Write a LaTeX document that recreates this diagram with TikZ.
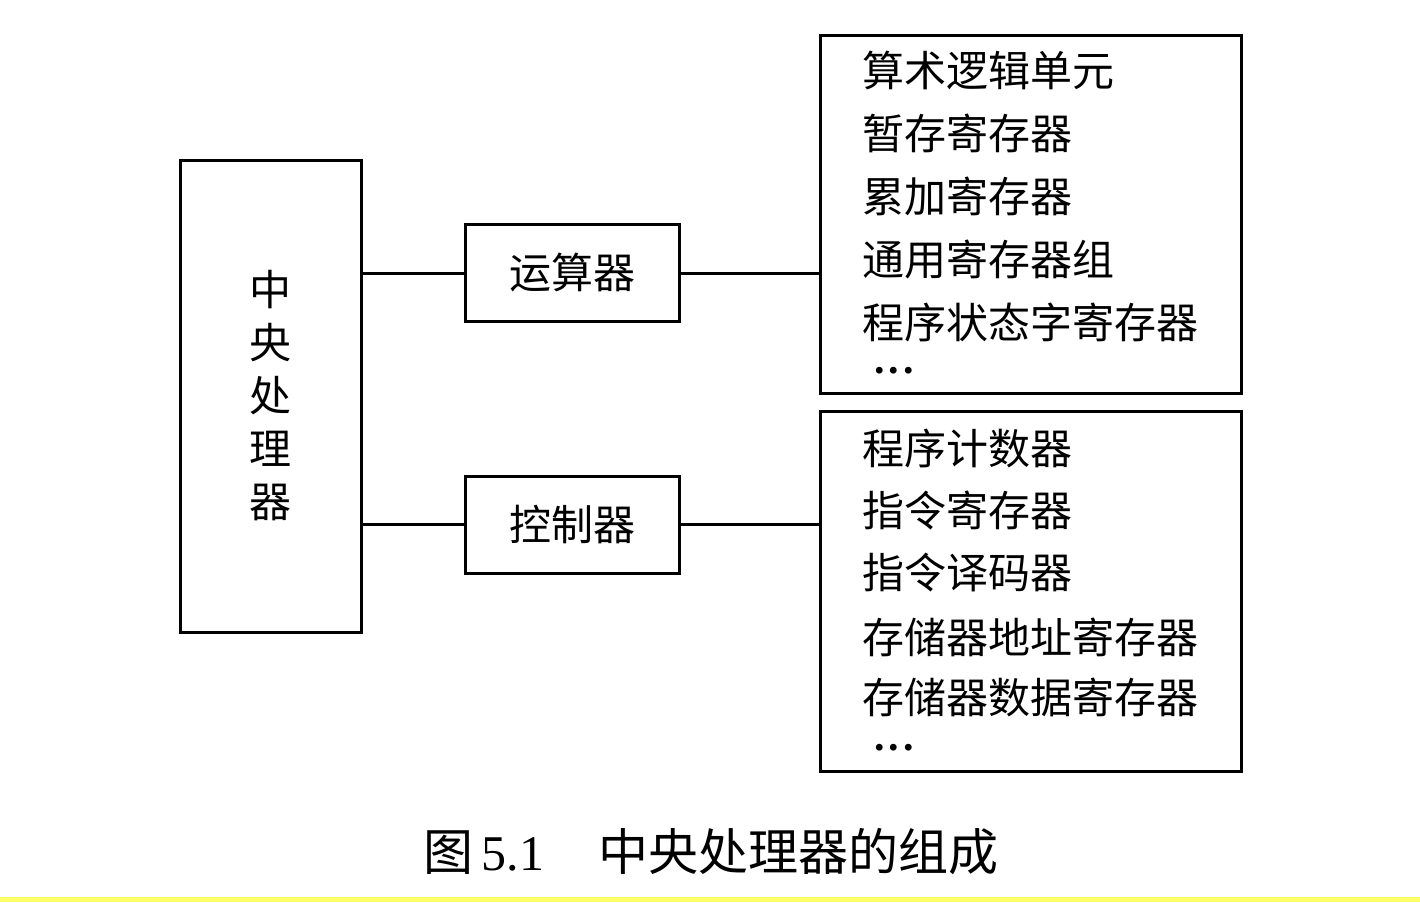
\documentclass[tikz,border=0pt]{standalone}
\usepackage{fontspec}
\setmainfont{Liberation Serif}
\newfontfamily\cjk{Noto Sans CJK SC}
\definecolor{bandyellow}{RGB}{255,255,102}

\begin{document}
\begin{tikzpicture}[x=0.5pt, y=-0.5pt,
    boxframe/.style={draw=black, line width=1.5pt, rectangle, inner sep=0pt},
    listline/.style={anchor=west, inner sep=0pt, font=\cjk\fontsize{21pt}{26pt}\selectfont},
    moredots/.style={anchor=west, inner sep=0pt, text height=3.5pt, text depth=0pt,
                     font=\bfseries\fontsize{21pt}{26pt}\selectfont},
    wire/.style={draw=black, line width=1.5pt}]

    \useasboundingbox (0,0) rectangle (1420,902);
    \fill[white] (0,0) rectangle (1420,902);
    \fill[bandyellow] (0,897) rectangle (1420,902);

    % central processor
    \node[boxframe, minimum width=90.5pt, minimum height=236pt, align=center,
          font=\cjk\fontsize{21pt}{26.5pt}\selectfont] (ndCpu) at (270.5,396) {中\\央\\处\\理\\器};

    % arithmetic unit and controller
    \node[boxframe, minimum width=107pt, minimum height=48.5pt, font=\cjk\fontsize{21pt}{26pt}\selectfont] (ndAlu) at (572,273) {运算器};
    \node[boxframe, minimum width=107pt, minimum height=48.5pt, font=\cjk\fontsize{21pt}{26pt}\selectfont] (ndCtrl) at (572,524.5) {控制器};

    % register lists
    \node[boxframe, minimum width=210.5pt, minimum height=179pt] (ndAluList) at (1030.5,214) {};
    \node[boxframe, minimum width=210.5pt, minimum height=180pt] (ndCtrlList) at (1030.5,591) {};

    \node[listline] (ndA1) at (862,70) {算术逻辑单元};
    \node[listline] (ndA2) at (862,133) {暂存寄存器};
    \node[listline] (ndA3) at (862,196) {累加寄存器};
    \node[listline] (ndA4) at (862,260) {通用寄存器组};
    \node[listline] (ndA5) at (862,322) {程序状态字寄存器};
    \node[moredots] (ndA6) at (874,370) {.\kern2pt.\kern2pt.};

    \node[listline] (ndC1) at (862,448) {程序计数器};
    \node[listline] (ndC2) at (862,511) {指令寄存器};
    \node[listline] (ndC3) at (862,573) {指令译码器};
    \node[listline] (ndC4) at (862,637) {存储器地址寄存器};
    \node[listline] (ndC5) at (862,697) {存储器数据寄存器};
    \node[moredots] (ndC6) at (874,747) {.\kern2pt.\kern2pt.};

    \draw[wire] (ndAlu.west -| ndCpu.east) -- (ndAlu.west);
    \draw[wire] (ndAlu.east) -- (ndAlu.east -| ndAluList.west);
    \draw[wire] (ndCtrl.west -| ndCpu.east) -- (ndCtrl.west);
    \draw[wire] (ndCtrl.east) -- (ndCtrl.east -| ndCtrlList.west);

    % caption
    \node[anchor=west, inner sep=0pt, font=\fontsize{25pt}{30pt}\selectfont] (ndCaption) at (423,852)
        {{\cjk 图}\,5.1\hspace{27pt}{\cjk 中央处理器的组成}};
\end{tikzpicture}
\end{document}
